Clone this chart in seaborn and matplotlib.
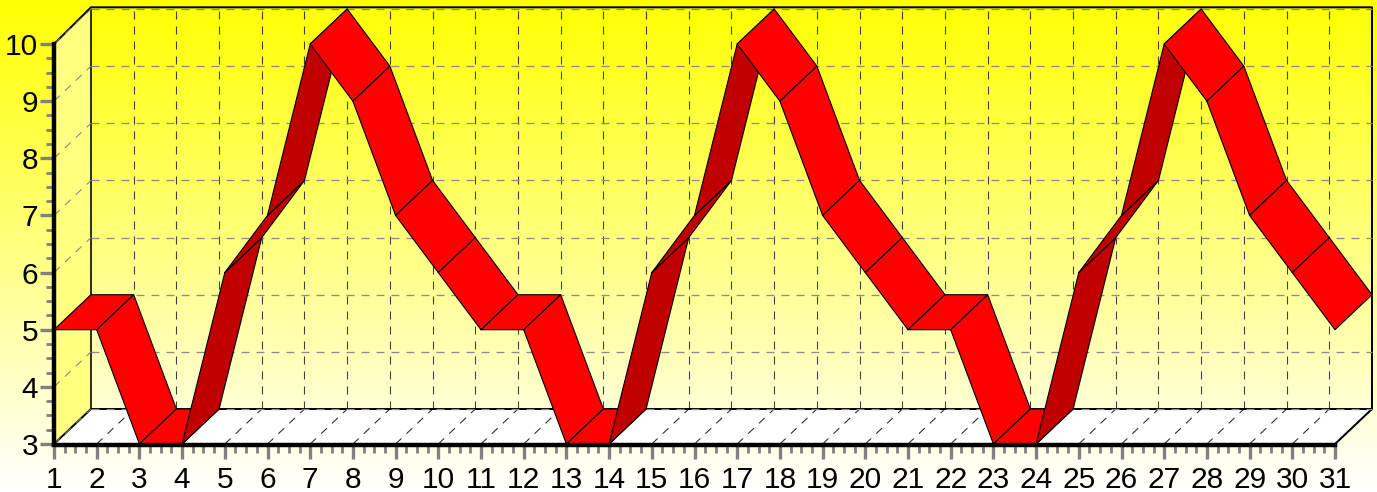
from matplotlib import pyplot as plt
from matplotlib.colors import LinearSegmentedColormap
import seaborn as sns
import numpy as np

days = list(range(1, 32))
values = [5, 5, 3, 3, 6, 7, 10, 9, 7, 6,
          5, 5, 3, 3, 6, 7, 10, 9, 7, 6,
          5, 5, 3, 3, 6, 7, 10, 9, 7, 6, 5]
levels = [3, 4, 5, 6, 7, 8, 9, 10]

# 3d look: how far the back wall is shifted, in data units
DEPTH_X = 0.866
DEPTH_Y = 0.6125

# pixels per data unit and where (1, 3) sits in the picture
PX_X, PX_Y = 42.7, 57.14
ORIGIN_X, ORIGIN_Y = 54, 444
WIDTH, HEIGHT = 1377, 492

# dash on / off, in pixels
DASH = (8, 7)
RED, DARK_RED = '#ff0000', '#c00000'


def line(ax, xs, ys, color, lw, z, dashes=None):
    """
        One straight line in data coordinates
        (lw and dashes in pixels)
    """
    l, = ax.plot(xs, ys, color=color, lw=lw * 0.72, zorder=z,
                 solid_capstyle='butt', dash_capstyle='butt')
    if dashes:
        # matplotlib scales dashes by the line width
        l.set_dashes([d / lw for d in dashes])


def drawWalls(ax):
    x0, x1 = days[0], days[-1]
    y0, y1 = levels[0], levels[-1]
    dx, dy = DEPTH_X, DEPTH_Y

    ax.fill([x0, x0 + dx, x0 + dx, x0], [y0, y0 + dy, y1 + dy, y1],
            color='#ffff80', lw=0, zorder=1)
    ax.fill([x0, x1, x1 + dx, x0 + dx], [y0, y0, y0 + dy, y0 + dy],
            color='white', lw=0, zorder=1)

    for d in days[1:-1]:
        line(ax, [d + dx, d + dx], [y0 + dy, y1 + dy], '#404040', 1.1, 1.5, DASH)
    for d in days[1:]:
        line(ax, [d, d + dx], [y0, y0 + dy], '#303030', 1.1, 1.5, DASH)
    for v in levels:
        line(ax, [x0 + dx, x1 + dx], [v + dy, v + dy], '#8c8c8c', 1.3, 1.6, DASH)
        line(ax, [x0, x0 + dx], [v, v + dy], '#808080', 1, 1.6, DASH)

    # outline of the box
    line(ax, [x0, x0 + dx, x1 + dx, x1 + dx], [y1, y1 + dy + 0.03, y1 + dy + 0.03, y0 + dy], 'black', 2, 1.55)
    line(ax, [x0 + dx, x0 + dx], [y0 + dy, y1 + dy], 'black', 1.6, 1.55)
    line(ax, [x0, x0 + dx, x1 + dx, x1], [y0, y0 + dy, y0 + dy, y0], 'black', 2, 1.55)


def drawRibbon(ax):
    """
        Each step is a parallelogram, painted from left to right
        so the later ones cover the earlier ones
    """
    for i in range(len(days) - 1):
        a, b = days[i], days[i + 1]
        va, vb = values[i], values[i + 1]
        xs = [a, b, b + DEPTH_X, a + DEPTH_X, a]
        ys = [va, vb, vb + DEPTH_Y, va + DEPTH_Y, va]
        color = DARK_RED if vb > va else RED
        z = 3 + i * 0.01
        ax.fill(xs, ys, color=color, lw=0, zorder=z)
        sns.lineplot(x=xs, y=ys, sort=False, estimator=None, color='black',
                     lw=0.8, zorder=z, legend=False, ax=ax)


if __name__ == '__main__':
    sns.set_theme(style='white')
    plt.rcParams['font.family'] = ['Liberation Sans', 'DejaVu Sans']

    fig = plt.figure(figsize=(WIDTH / 100, HEIGHT / 100), dpi=100)
    ax = fig.add_axes([0, 0, 1, 1])
    ax.patch.set_visible(False)

    # yellow to white background
    cmap = LinearSegmentedColormap.from_list('bg', ['#ffffff', '#ffff00'])
    gradient = np.linspace(0, 1, 256).reshape(-1, 1)
    ax.imshow(gradient, cmap=cmap, origin='lower', aspect='auto',
              extent=(0, 1, 0, 1), transform=ax.transAxes, zorder=0)

    drawWalls(ax)
    drawRibbon(ax)

    ax.set_xlim(days[0] - ORIGIN_X / PX_X, days[0] + (WIDTH - ORIGIN_X) / PX_X)
    ax.set_ylim(levels[0] - (HEIGHT - ORIGIN_Y) / PX_Y, levels[0] + ORIGIN_Y / PX_Y)
    ax.set_xlabel('')
    ax.set_ylabel('')

    # real axes, moved onto the front edges of the box
    for side in ['top', 'right']:
        ax.spines[side].set_visible(False)
    ax.spines['left'].set_position(('data', days[0]))
    ax.spines['bottom'].set_position(('data', levels[0] - 0.025))
    ax.spines['left'].set_bounds(levels[0], levels[-1])
    ax.spines['bottom'].set_bounds(days[0], days[-1])
    for side in ['left', 'bottom']:
        ax.spines[side].set_linewidth(3.2)
        ax.spines[side].set_color('black')
        ax.spines[side].set_zorder(4)

    ax.set_xticks(days)
    ax.set_yticks(levels)
    ax.set_xticks([d + k / 4 for d in days[:-1] for k in (1, 2, 3)], minor=True)
    ax.set_yticks([v + k / 4 for v in levels[:-1] for k in (1, 2, 3)], minor=True)
    ax.tick_params(which='major', direction='out', length=10, width=2.4,
                   color='#808080', labelsize=21.5, labelcolor='black', pad=5,
                   left=True, bottom=True)
    ax.tick_params(which='minor', direction='out', length=6, width=2,
                   color='#808080', left=True, bottom=True)
    ax.tick_params(axis='y', which='major', pad=1.5)

    fig.savefig('out.png', dpi=100)
